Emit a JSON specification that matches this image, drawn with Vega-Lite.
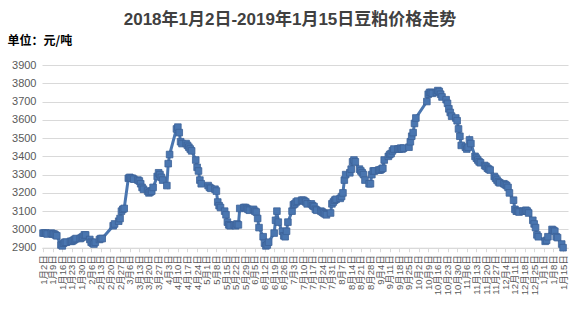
{
  "$schema": "https://vega.github.io/schema/vega-lite/v6.json",
  "autosize": {"type": "none"},
  "width": 526,
  "height": 182.7,
  "padding": {"left": 42, "top": 65, "right": 16, "bottom": 69.3},
  "background": "white",
  "title": {
    "text": "2018年1月2日-2019年1月15日豆粕价格走势",
    "fontSize": 17,
    "fontWeight": "bold",
    "font": "Liberation Sans, Noto Sans CJK SC",
    "color": "#404040",
    "anchor": "middle",
    "dx": -15,
    "offset": 5
  },
  "config": {"view": {"stroke": null}},
  "data": {"values": [
    {"d":"2018-01-02","v":2980},{"d":"2018-01-03","v":2980},{"d":"2018-01-04","v":2980},{"d":"2018-01-05","v":2975},
    {"d":"2018-01-08","v":2980},{"d":"2018-01-09","v":2975},{"d":"2018-01-10","v":2975},{"d":"2018-01-11","v":2970},{"d":"2018-01-12","v":2965},
    {"d":"2018-01-15","v":2915},{"d":"2018-01-16","v":2910},{"d":"2018-01-17","v":2925},{"d":"2018-01-18","v":2930},{"d":"2018-01-19","v":2930},
    {"d":"2018-01-22","v":2935},{"d":"2018-01-23","v":2935},{"d":"2018-01-24","v":2940},{"d":"2018-01-25","v":2945},{"d":"2018-01-26","v":2950},
    {"d":"2018-01-29","v":2950},{"d":"2018-01-30","v":2955},{"d":"2018-01-31","v":2960},{"d":"2018-02-01","v":2970},{"d":"2018-02-02","v":2970},
    {"d":"2018-02-05","v":2945},{"d":"2018-02-06","v":2930},{"d":"2018-02-07","v":2925},{"d":"2018-02-08","v":2920},{"d":"2018-02-09","v":2930},
    {"d":"2018-02-12","v":2945},{"d":"2018-02-13","v":2950},{"d":"2018-02-14","v":2950},
    {"d":"2018-02-22","v":3020},{"d":"2018-02-23","v":3030},
    {"d":"2018-02-26","v":3045},{"d":"2018-02-27","v":3060},{"d":"2018-02-28","v":3100},{"d":"2018-03-01","v":3110},{"d":"2018-03-02","v":3115},
    {"d":"2018-03-05","v":3280},{"d":"2018-03-06","v":3285},{"d":"2018-03-07","v":3280},{"d":"2018-03-08","v":3280},{"d":"2018-03-09","v":3275},
    {"d":"2018-03-12","v":3270},{"d":"2018-03-13","v":3265},{"d":"2018-03-14","v":3250},{"d":"2018-03-15","v":3230},{"d":"2018-03-16","v":3220},
    {"d":"2018-03-19","v":3210},{"d":"2018-03-20","v":3200},{"d":"2018-03-21","v":3205},{"d":"2018-03-22","v":3210},{"d":"2018-03-23","v":3230},
    {"d":"2018-03-26","v":3290},{"d":"2018-03-27","v":3310},{"d":"2018-03-28","v":3300},{"d":"2018-03-29","v":3285},{"d":"2018-03-30","v":3270},
    {"d":"2018-04-02","v":3240},{"d":"2018-04-03","v":3360},{"d":"2018-04-04","v":3410},
    {"d":"2018-04-09","v":3550},{"d":"2018-04-10","v":3560},{"d":"2018-04-11","v":3530},{"d":"2018-04-12","v":3480},{"d":"2018-04-13","v":3470},
    {"d":"2018-04-16","v":3470},{"d":"2018-04-17","v":3460},{"d":"2018-04-18","v":3450},{"d":"2018-04-19","v":3440},{"d":"2018-04-20","v":3430},
    {"d":"2018-04-23","v":3380},{"d":"2018-04-24","v":3340},{"d":"2018-04-25","v":3320},{"d":"2018-04-26","v":3270},{"d":"2018-04-27","v":3250},
    {"d":"2018-05-02","v":3240},{"d":"2018-05-03","v":3230},{"d":"2018-05-04","v":3225},
    {"d":"2018-05-07","v":3220},{"d":"2018-05-08","v":3210},{"d":"2018-05-09","v":3150},{"d":"2018-05-10","v":3130},{"d":"2018-05-11","v":3120},
    {"d":"2018-05-14","v":3100},{"d":"2018-05-15","v":3080},{"d":"2018-05-16","v":3040},{"d":"2018-05-17","v":3025},{"d":"2018-05-18","v":3020},
    {"d":"2018-05-21","v":3025},{"d":"2018-05-22","v":3020},{"d":"2018-05-23","v":3030},{"d":"2018-05-24","v":3025},{"d":"2018-05-25","v":3115},
    {"d":"2018-05-28","v":3120},{"d":"2018-05-29","v":3120},{"d":"2018-05-30","v":3115},{"d":"2018-05-31","v":3110},{"d":"2018-06-01","v":3105},
    {"d":"2018-06-04","v":3110},{"d":"2018-06-05","v":3100},{"d":"2018-06-06","v":3095},{"d":"2018-06-07","v":3060},{"d":"2018-06-08","v":3010},
    {"d":"2018-06-11","v":2960},{"d":"2018-06-12","v":2925},{"d":"2018-06-13","v":2910},{"d":"2018-06-14","v":2915},{"d":"2018-06-15","v":2930},
    {"d":"2018-06-19","v":2980},{"d":"2018-06-20","v":3050},{"d":"2018-06-21","v":3100},{"d":"2018-06-22","v":3040},
    {"d":"2018-06-25","v":2990},{"d":"2018-06-26","v":2965},{"d":"2018-06-27","v":2960},{"d":"2018-06-28","v":2990},{"d":"2018-06-29","v":3040},
    {"d":"2018-07-02","v":3100},{"d":"2018-07-03","v":3135},{"d":"2018-07-04","v":3140},{"d":"2018-07-05","v":3150},{"d":"2018-07-06","v":3155},
    {"d":"2018-07-09","v":3160},{"d":"2018-07-10","v":3160},{"d":"2018-07-11","v":3155},{"d":"2018-07-12","v":3150},{"d":"2018-07-13","v":3140},
    {"d":"2018-07-16","v":3140},{"d":"2018-07-17","v":3130},{"d":"2018-07-18","v":3125},{"d":"2018-07-19","v":3110},{"d":"2018-07-20","v":3105},
    {"d":"2018-07-23","v":3100},{"d":"2018-07-24","v":3095},{"d":"2018-07-25","v":3090},{"d":"2018-07-26","v":3085},{"d":"2018-07-27","v":3080},
    {"d":"2018-07-30","v":3090},{"d":"2018-07-31","v":3140},{"d":"2018-08-01","v":3150},{"d":"2018-08-02","v":3160},{"d":"2018-08-03","v":3165},
    {"d":"2018-08-06","v":3170},{"d":"2018-08-07","v":3180},{"d":"2018-08-08","v":3200},{"d":"2018-08-09","v":3270},{"d":"2018-08-10","v":3300},
    {"d":"2018-08-13","v":3310},{"d":"2018-08-14","v":3330},{"d":"2018-08-15","v":3370},{"d":"2018-08-16","v":3380},{"d":"2018-08-17","v":3370},
    {"d":"2018-08-20","v":3330},{"d":"2018-08-21","v":3320},{"d":"2018-08-22","v":3310},{"d":"2018-08-23","v":3300},{"d":"2018-08-24","v":3270},
    {"d":"2018-08-27","v":3250},{"d":"2018-08-28","v":3250},{"d":"2018-08-29","v":3300},{"d":"2018-08-30","v":3320},{"d":"2018-08-31","v":3320},
    {"d":"2018-09-03","v":3325},{"d":"2018-09-04","v":3325},{"d":"2018-09-05","v":3330},{"d":"2018-09-06","v":3335},{"d":"2018-09-07","v":3380},
    {"d":"2018-09-10","v":3400},{"d":"2018-09-11","v":3410},{"d":"2018-09-12","v":3415},{"d":"2018-09-13","v":3430},{"d":"2018-09-14","v":3440},
    {"d":"2018-09-17","v":3440},{"d":"2018-09-18","v":3440},{"d":"2018-09-19","v":3445},{"d":"2018-09-20","v":3440},{"d":"2018-09-21","v":3445},
    {"d":"2018-09-25","v":3450},{"d":"2018-09-26","v":3480},{"d":"2018-09-27","v":3510},{"d":"2018-09-28","v":3530},{"d":"2018-09-29","v":3580},{"d":"2018-09-30","v":3610},
    {"d":"2018-10-08","v":3700},{"d":"2018-10-09","v":3740},{"d":"2018-10-10","v":3750},{"d":"2018-10-11","v":3750},{"d":"2018-10-12","v":3745},
    {"d":"2018-10-15","v":3750},{"d":"2018-10-16","v":3760},{"d":"2018-10-17","v":3755},{"d":"2018-10-18","v":3740},{"d":"2018-10-19","v":3725},
    {"d":"2018-10-22","v":3710},{"d":"2018-10-23","v":3690},{"d":"2018-10-24","v":3660},{"d":"2018-10-25","v":3640},{"d":"2018-10-26","v":3620},
    {"d":"2018-10-29","v":3610},{"d":"2018-10-30","v":3595},{"d":"2018-10-31","v":3550},{"d":"2018-11-01","v":3510},{"d":"2018-11-02","v":3460},
    {"d":"2018-11-05","v":3450},{"d":"2018-11-06","v":3440},{"d":"2018-11-07","v":3450},{"d":"2018-11-08","v":3490},{"d":"2018-11-09","v":3470},
    {"d":"2018-11-12","v":3400},{"d":"2018-11-13","v":3390},{"d":"2018-11-14","v":3380},{"d":"2018-11-15","v":3370},{"d":"2018-11-16","v":3365},
    {"d":"2018-11-19","v":3350},{"d":"2018-11-20","v":3345},{"d":"2018-11-21","v":3335},{"d":"2018-11-22","v":3330},{"d":"2018-11-23","v":3325},
    {"d":"2018-11-26","v":3290},{"d":"2018-11-27","v":3280},{"d":"2018-11-28","v":3270},{"d":"2018-11-29","v":3260},{"d":"2018-11-30","v":3255},
    {"d":"2018-12-03","v":3250},{"d":"2018-12-04","v":3245},{"d":"2018-12-05","v":3240},{"d":"2018-12-06","v":3230},{"d":"2018-12-07","v":3200},
    {"d":"2018-12-10","v":3160},{"d":"2018-12-11","v":3110},{"d":"2018-12-12","v":3100},{"d":"2018-12-13","v":3100},{"d":"2018-12-14","v":3095},
    {"d":"2018-12-17","v":3100},{"d":"2018-12-18","v":3100},{"d":"2018-12-19","v":3105},{"d":"2018-12-20","v":3100},{"d":"2018-12-21","v":3090},
    {"d":"2018-12-24","v":3050},{"d":"2018-12-25","v":3030},{"d":"2018-12-26","v":3010},{"d":"2018-12-27","v":2970},{"d":"2018-12-28","v":2960},
    {"d":"2019-01-02","v":2935},{"d":"2019-01-03","v":2940},{"d":"2019-01-04","v":2960},
    {"d":"2019-01-07","v":3000},{"d":"2019-01-08","v":2995},{"d":"2019-01-09","v":2990},{"d":"2019-01-10","v":2960},{"d":"2019-01-11","v":2955},
    {"d":"2019-01-14","v":2920},{"d":"2019-01-15","v":2900}
  ]},
  "encoding": {
    "x": {
      "field": "d", "type": "temporal",
      "scale": {"type": "utc", "domain": [
        {"year": 2018, "month": 1, "date": 1, "hours": 6, "utc": true},
        {"year": 2019, "month": 1, "date": 18, "hours": 14, "utc": true}
      ]},
      "axis": {
        "title": null,
        "labelExpr": "utcFormat(datum.value, '%-m月%-d日')",
        "labelAngle": -90,
        "labelFontSize": 9.5,
        "labelFont": "Liberation Sans, Noto Sans CJK SC",
        "labelColor": "#595959",
        "labelOverlap": false,
        "labelPadding": 3,
        "labelFlush": false,
        "grid": false,
        "domainColor": "#d9d9d9",
        "tickColor": "#d9d9d9",
        "tickSize": 4,
        "values": [
          {"year":2018,"month":1,"date":2,"utc":true},{"year":2018,"month":1,"date":9,"utc":true},{"year":2018,"month":1,"date":16,"utc":true},{"year":2018,"month":1,"date":23,"utc":true},{"year":2018,"month":1,"date":30,"utc":true},
          {"year":2018,"month":2,"date":6,"utc":true},{"year":2018,"month":2,"date":13,"utc":true},{"year":2018,"month":2,"date":20,"utc":true},{"year":2018,"month":2,"date":27,"utc":true},
          {"year":2018,"month":3,"date":6,"utc":true},{"year":2018,"month":3,"date":13,"utc":true},{"year":2018,"month":3,"date":20,"utc":true},{"year":2018,"month":3,"date":27,"utc":true},
          {"year":2018,"month":4,"date":3,"utc":true},{"year":2018,"month":4,"date":10,"utc":true},{"year":2018,"month":4,"date":17,"utc":true},{"year":2018,"month":4,"date":24,"utc":true},
          {"year":2018,"month":5,"date":1,"utc":true},{"year":2018,"month":5,"date":8,"utc":true},{"year":2018,"month":5,"date":15,"utc":true},{"year":2018,"month":5,"date":22,"utc":true},{"year":2018,"month":5,"date":29,"utc":true},
          {"year":2018,"month":6,"date":5,"utc":true},{"year":2018,"month":6,"date":12,"utc":true},{"year":2018,"month":6,"date":19,"utc":true},{"year":2018,"month":6,"date":26,"utc":true},
          {"year":2018,"month":7,"date":3,"utc":true},{"year":2018,"month":7,"date":10,"utc":true},{"year":2018,"month":7,"date":17,"utc":true},{"year":2018,"month":7,"date":24,"utc":true},{"year":2018,"month":7,"date":31,"utc":true},
          {"year":2018,"month":8,"date":7,"utc":true},{"year":2018,"month":8,"date":14,"utc":true},{"year":2018,"month":8,"date":21,"utc":true},{"year":2018,"month":8,"date":28,"utc":true},
          {"year":2018,"month":9,"date":4,"utc":true},{"year":2018,"month":9,"date":11,"utc":true},{"year":2018,"month":9,"date":18,"utc":true},{"year":2018,"month":9,"date":25,"utc":true},
          {"year":2018,"month":10,"date":2,"utc":true},{"year":2018,"month":10,"date":9,"utc":true},{"year":2018,"month":10,"date":16,"utc":true},{"year":2018,"month":10,"date":23,"utc":true},{"year":2018,"month":10,"date":30,"utc":true},
          {"year":2018,"month":11,"date":6,"utc":true},{"year":2018,"month":11,"date":13,"utc":true},{"year":2018,"month":11,"date":20,"utc":true},{"year":2018,"month":11,"date":27,"utc":true},
          {"year":2018,"month":12,"date":4,"utc":true},{"year":2018,"month":12,"date":11,"utc":true},{"year":2018,"month":12,"date":18,"utc":true},{"year":2018,"month":12,"date":25,"utc":true},
          {"year":2019,"month":1,"date":1,"utc":true},{"year":2019,"month":1,"date":8,"utc":true},{"year":2019,"month":1,"date":15,"utc":true}
        ]
      }
    },
    "y": {
      "field": "v", "type": "quantitative",
      "scale": {"domain": [2900, 3900], "zero": false, "nice": false},
      "axis": {
        "values": [2900,3000,3100,3200,3300,3400,3500,3600,3700,3800,3900],
        "format": "d",
        "title": "单位：元/吨",
        "titleAngle": 0,
        "titleAlign": "left",
        "titleBaseline": "middle",
        "titleX": -35,
        "titleY": -25,
        "titleFontSize": 12,
        "titleFontWeight": "bold",
        "titleFont": "Noto Sans CJK SC",
        "titleColor": "#000000",
        "domain": false,
        "ticks": false,
        "labelFontSize": 11,
        "labelFont": "Liberation Sans",
        "labelColor": "#595959",
        "labelPadding": 6,
        "gridColor": "#d9d9d9",
        "gridWidth": 1
      }
    }
  },
  "layer": [
    {"mark": {"type": "line", "color": "#4a76b0", "strokeWidth": 3, "clip": false}},
    {"mark": {"type": "point", "shape": "square", "filled": true, "size": 44, "color": "#4a76b0", "stroke": "#3c6298", "strokeWidth": 0.8, "opacity": 1, "clip": false}}
  ]
}
